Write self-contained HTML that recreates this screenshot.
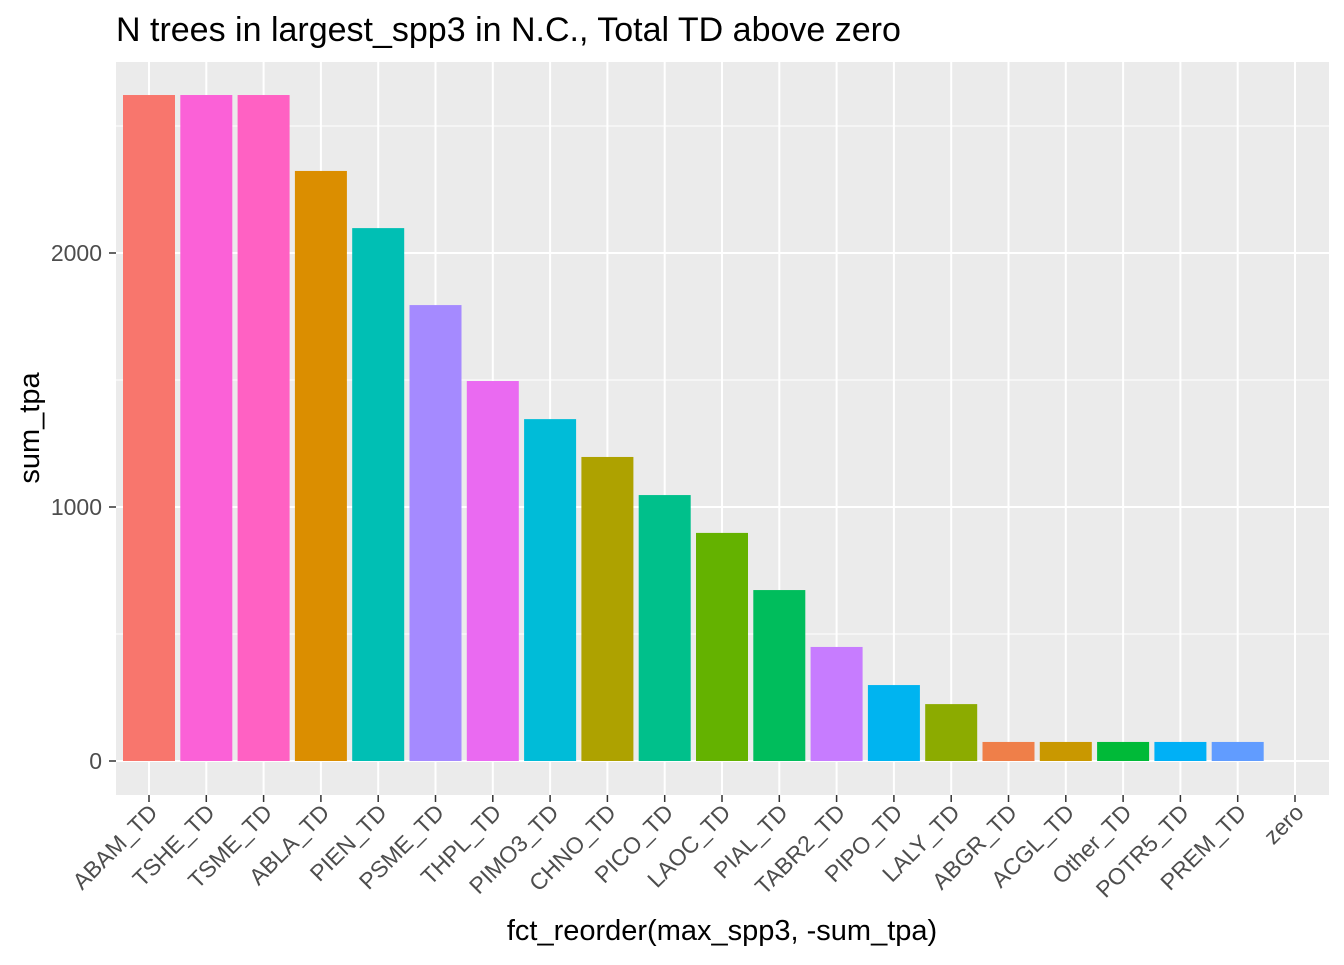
<!DOCTYPE html>
<html><head><meta charset="utf-8"><style>
body{margin:0;background:#fff;font-family:"Liberation Sans",Arial,sans-serif}
</style></head><body>
<svg id="chart" width="1344" height="960" xmlns="http://www.w3.org/2000/svg">
<text x="116" y="41" font-size="34" fill="#000">N trees in largest_spp3 in N.C., Total TD above zero</text>
<rect x="116" y="62" width="1213" height="733" fill="#EBEBEB"/>
<g id="grid"></g><g id="bars"></g><g id="axes"></g>
<text x="722" y="940" font-size="29" text-anchor="middle" fill="#000">fct_reorder(max_spp3, -sum_tpa)</text>
<text transform="translate(39,428) rotate(-90)" font-size="29" text-anchor="middle" fill="#000">sum_tpa</text>
</svg>
<script>
const categories=["ABAM_TD","TSHE_TD","TSME_TD","ABLA_TD","PIEN_TD","PSME_TD","THPL_TD","PIMO3_TD","CHNO_TD","PICO_TD","LAOC_TD","PIAL_TD","TABR2_TD","PIPO_TD","LALY_TD","ABGR_TD","ACGL_TD","Other_TD","POTR5_TD","PREM_TD","zero"];
const values=[2622,2622,2622,2323,2098,1795,1496,1346,1197,1047,898,673,449,299,224,75,75,75,75,75,0];
const colors=["#F8766D","#FB61D7","#FF61C3","#DB8E00","#00BFB4","#A58AFF","#EA6AF1","#00BCD8","#AEA200","#00C08B","#64B200","#00BD5C","#C77CFF","#00B4F0","#8CAB00","#EF7F49","#C99800","#00BA38","#00B0F6","#619CFF","#FF6C91"];
const yTicks=[0,1000,2000];
const yMinor=[500,1500,2500];
const NS="http://www.w3.org/2000/svg";
const y=v=>761-v*0.254;
const x=i=>149+i*57.3;
const g=document.getElementById('grid'),b=document.getElementById('bars'),a=document.getElementById('axes');
function mk(t,attrs,p){const e=document.createElementNS(NS,t);for(const k in attrs)e.setAttribute(k,attrs[k]);p.appendChild(e);return e;}
yMinor.forEach(v=>{const l=mk('line',{x1:116,x2:1329,y1:y(v),y2:y(v),stroke:'#fff','stroke-width':1},g);

});
yTicks.forEach(v=>{const l=mk('line',{x1:116,x2:1329,y1:y(v),y2:y(v),stroke:'#fff','stroke-width':2},g);


const t=mk('line',{x1:109,x2:116,y1:y(v),y2:y(v),stroke:'#333','stroke-width':1.5},a);


const tx=mk('text',{x:102,y:y(v)+8,'font-size':23,'text-anchor':'end',fill:'#4D4D4D'},a);tx.textContent=v;

});
categories.forEach((c,i)=>{const l=mk('line',{x1:x(i),x2:x(i),y1:62,y2:795,stroke:'#fff','stroke-width':2},g);


if(values[i]>0){const r=mk('rect',{x:x(i)-26,y:y(values[i]),width:52,height:761-y(values[i]),fill:colors[i]},b);

}
const t=mk('line',{x1:x(i),x2:x(i),y1:795,y2:802,stroke:'#333','stroke-width':1.5},a);


const ax=x(i)+10,ay=814;
const tx=mk('text',{x:ax,y:ay,'font-size':23,'text-anchor':'end',fill:'#4D4D4D',transform:`rotate(-45 ${ax} ${ay})`},a);tx.textContent=c;

});
</script>
</body></html>
